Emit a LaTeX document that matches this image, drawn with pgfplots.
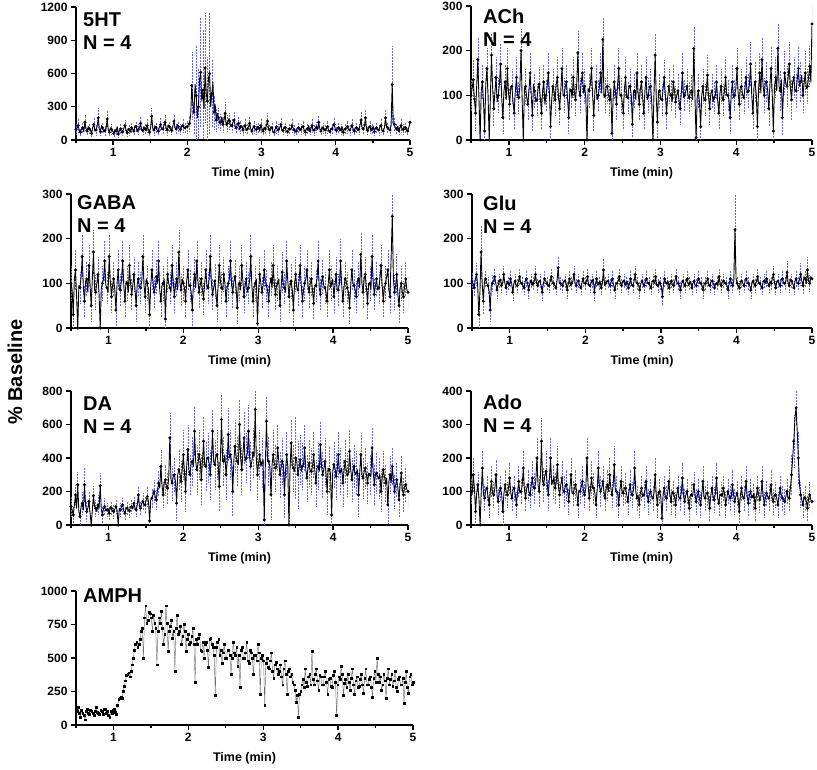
\documentclass[border=0pt]{standalone}
\usepackage{pgfplots}
\pgfplotsset{compat=1.18}
\usepackage{pgfplotstable}
\usepackage{fontspec}
\setmainfont{Liberation Sans}
\definecolor{errblue}{RGB}{100,100,255}

% Each table: y = mean % baseline, e = SEM; one row every 0.015 min from 0.5 min
\pgfplotstableread[row sep=\\]{
y e\\
95 45\\110 50\\130 60\\85 45\\70 40\\100 50\\110 50\\75 40\\160 70\\105 50\\
80 40\\120 55\\100 50\\90 45\\60 30\\115 50\\140 60\\80 40\\90 45\\125 55\\
200 90\\95 45\\75 40\\130 55\\110 50\\70 35\\85 45\\100 50\\190 80\\90 45\\
70 35\\110 50\\95 45\\80 40\\60 35\\95 45\\80 40\\120 50\\55 30\\85 40\\
100 45\\65 35\\75 40\\110 50\\130 50\\90 45\\65 35\\105 50\\90 45\\70 35\\
110 50\\95 45\\80 40\\130 55\\120 50\\75 40\\95 45\\110 50\\150 60\\90 45\\
85 40\\120 55\\100 50\\80 40\\130 55\\95 45\\70 35\\110 50\\215 80\\100 45\\
90 45\\125 55\\110 50\\85 40\\80 40\\120 55\\140 60\\95 45\\100 45\\130 55\\
160 70\\105 50\\90 45\\135 60\\120 50\\95 45\\85 40\\125 55\\170 60\\110 50\\
100 45\\140 60\\120 50\\90 45\\95 45\\130 55\\130 55\\105 50\\110 50\\125 55\\
120 55\\140 60\\150 70\\220 150\\490 300\\320 250\\250 200\\500 400\\400 450\\200 300\\
300 350\\550 450\\610 500\\350 400\\450 550\\280 400\\650 500\\420 450\\350 400\\560 500\\
600 550\\300 350\\420 300\\520 300\\250 150\\320 200\\180 100\\240 120\\200 90\\150 80\\
160 80\\210 90\\140 70\\180 80\\240 100\\130 60\\150 80\\190 80\\170 70\\120 60\\
130 60\\160 70\\180 70\\120 55\\110 50\\140 60\\150 60\\95 45\\120 55\\130 60\\
90 45\\115 50\\130 60\\85 40\\100 50\\120 55\\150 60\\100 50\\80 40\\110 50\\
120 55\\90 45\\95 45\\125 55\\110 50\\80 40\\130 55\\105 50\\80 40\\115 50\\
100 50\\130 55\\170 70\\95 45\\90 45\\120 55\\110 50\\75 40\\70 35\\100 45\\
120 55\\85 40\\95 45\\110 50\\140 60\\90 45\\85 40\\120 55\\110 50\\75 40\\
75 40\\105 50\\100 45\\90 45\\130 55\\110 50\\90 45\\70 35\\80 40\\115 50\\
110 50\\85 40\\95 45\\125 55\\120 55\\90 45\\70 35\\105 50\\100 50\\130 55\\
85 40\\100 45\\130 60\\80 40\\90 45\\110 50\\115 50\\95 45\\160 65\\100 45\\
80 40\\120 55\\105 50\\90 45\\90 45\\110 50\\120 55\\85 40\\75 40\\105 50\\
100 45\\130 55\\140 60\\95 45\\85 40\\110 50\\110 50\\80 40\\95 45\\120 55\\
70 35\\100 45\\100 50\\125 55\\120 55\\90 45\\90 45\\110 50\\130 60\\95 45\\
80 40\\115 50\\110 50\\85 40\\95 45\\130 55\\180 70\\110 50\\100 50\\120 55\\
200 70\\95 45\\85 40\\115 50\\120 55\\80 40\\100 45\\125 55\\75 40\\105 50\\
110 50\\90 45\\90 45\\120 55\\130 55\\85 40\\80 40\\110 50\\200 80\\120 55\\
110 50\\95 45\\90 45\\130 55\\500 350\\150 70\\140 60\\100 50\\100 50\\125 55\\
85 40\\110 50\\130 55\\90 45\\95 45\\120 55\\110 50\\85 40\\80 40\\115 50\\
160 60\\
}\tHT

\pgfplotstableread[row sep=\\]{
y e\\
100 35\\115 40\\135 45\\90 40\\60 40\\120 45\\180 50\\95 40\\0 30\\110 40\\
130 40\\85 40\\20 40\\125 45\\160 45\\100 40\\0 35\\90 40\\190 50\\120 45\\
70 40\\105 40\\140 45\\85 35\\100 40\\125 45\\170 45\\95 40\\50 35\\110 40\\
130 40\\90 35\\160 45\\105 40\\80 35\\120 40\\120 40\\85 35\\60 35\\110 40\\
140 45\\100 40\\95 35\\120 40\\200 50\\90 35\\0 40\\115 40\\120 40\\95 35\\
80 35\\110 40\\150 45\\100 40\\55 35\\125 40\\110 40\\85 35\\90 35\\115 40\\
125 40\\95 35\\60 35\\110 40\\130 40\\80 35\\100 35\\120 40\\150 45\\105 40\\
30 30\\90 35\\120 40\\110 40\\90 35\\125 40\\140 45\\95 35\\70 35\\110 40\\
160 45\\100 40\\100 40\\120 40\\130 40\\90 35\\50 35\\115 40\\110 40\\95 35\\
140 45\\105 40\\90 35\\125 40\\195 50\\110 40\\100 40\\130 45\\150 45\\105 40\\
120 40\\95 35\\0 35\\115 40\\110 40\\125 45\\160 45\\100 40\\55 35\\110 40\\
130 40\\90 35\\100 35\\120 40\\150 45\\105 40\\225 50\\95 35\\100 40\\120 40\\
120 40\\100 40\\90 35\\115 40\\15 30\\90 35\\130 40\\110 40\\80 35\\125 45\\
160 45\\100 40\\100 40\\85 35\\60 35\\115 40\\140 45\\95 35\\95 35\\120 40\\
120 40\\100 35\\35 30\\110 40\\110 40\\90 35\\150 45\\105 40\\80 35\\115 40\\
130 40\\95 35\\60 35\\110 40\\140 45\\90 35\\100 40\\120 40\\120 40\\85 35\\
0 35\\105 40\\190 50\\95 35\\40 35\\110 40\\110 40\\90 35\\90 35\\115 40\\
140 40\\100 35\\60 35\\95 35\\120 40\\105 35\\100 35\\85 35\\130 40\\110 40\\
85 35\\100 35\\110 40\\90 35\\70 35\\105 35\\150 45\\95 35\\100 35\\110 35\\
120 40\\100 35\\95 35\\105 35\\110 35\\90 35\\205 50\\100 35\\5 35\\95 35\\
110 40\\85 35\\30 35\\100 35\\120 40\\90 35\\90 35\\110 40\\145 45\\95 35\\
70 35\\105 40\\110 40\\85 35\\95 35\\100 35\\130 40\\90 35\\60 35\\105 40\\
120 40\\95 35\\90 35\\110 40\\140 45\\100 35\\100 35\\90 35\\50 35\\105 40\\
130 40\\95 35\\100 35\\115 40\\160 45\\105 40\\80 35\\120 40\\120 40\\100 35\\
95 35\\115 40\\140 45\\105 40\\110 40\\125 45\\170 50\\100 40\\60 35\\120 45\\
130 45\\100 40\\30 40\\115 45\\150 45\\105 40\\180 50\\120 45\\100 40\\130 45\\
130 45\\110 40\\70 40\\125 45\\160 50\\105 45\\20 40\\120 45\\140 45\\110 45\\
205 55\\120 45\\110 45\\135 50\\50 40\\115 45\\150 50\\125 45\\120 45\\140 50\\
170 50\\115 45\\90 45\\130 50\\140 45\\110 45\\110 40\\135 50\\160 50\\120 45\\
130 45\\145 50\\100 40\\125 45\\150 50\\115 45\\120 40\\140 50\\165 45\\130 50\\
260 50\\
}\tACh

\pgfplotstableread[row sep=\\]{
y e\\
100 40\\85 35\\30 35\\110 40\\130 45\\70 35\\0 40\\95 40\\90 35\\115 40\\
160 50\\90 35\\60 35\\105 40\\110 40\\80 35\\140 45\\95 40\\50 35\\110 40\\
170 50\\85 35\\80 40\\100 40\\120 40\\75 35\\0 35\\90 40\\100 40\\110 40\\
150 45\\95 40\\90 35\\80 35\\160 50\\105 40\\70 35\\95 35\\110 40\\85 35\\
40 35\\100 40\\130 45\\90 35\\85 35\\110 40\\150 45\\95 40\\60 35\\105 40\\
100 40\\80 35\\140 45\\100 40\\75 35\\95 35\\120 40\\85 35\\50 35\\100 40\\
110 40\\90 35\\90 35\\105 40\\160 50\\95 40\\70 35\\110 40\\100 40\\85 35\\
30 35\\95 35\\130 45\\105 40\\80 35\\90 35\\115 40\\100 40\\150 45\\85 35\\
60 35\\95 35\\100 40\\110 40\\20 35\\90 35\\120 40\\100 40\\90 35\\80 35\\
140 45\\105 40\\70 35\\95 35\\110 40\\85 35\\170 50\\100 40\\85 35\\110 40\\
100 40\\90 35\\60 35\\105 40\\130 45\\95 35\\95 35\\80 35\\40 35\\100 40\\
120 40\\90 35\\150 45\\105 40\\80 35\\95 35\\110 40\\85 35\\65 35\\100 40\\
130 45\\95 35\\90 35\\110 40\\160 50\\100 40\\75 35\\90 35\\105 40\\80 35\\
50 35\\95 35\\140 45\\105 40\\90 35\\85 35\\120 40\\100 40\\60 35\\90 35\\
100 40\\110 40\\150 45\\95 35\\80 35\\105 40\\115 40\\90 35\\45 35\\100 40\\
100 40\\85 35\\140 45\\105 40\\70 35\\95 35\\110 40\\80 35\\90 35\\105 40\\
160 50\\95 35\\60 35\\90 35\\100 40\\110 40\\10 40\\85 35\\120 40\\100 40\\
80 35\\95 35\\130 45\\105 40\\95 35\\85 35\\60 35\\100 40\\110 40\\90 35\\
140 45\\100 40\\75 35\\95 35\\100 40\\110 40\\50 35\\90 35\\125 45\\100 40\\
90 35\\80 35\\150 45\\105 40\\70 35\\95 35\\105 40\\85 35\\40 35\\100 40\\
120 40\\90 35\\85 35\\105 40\\140 45\\95 35\\60 35\\85 35\\100 40\\110 40\\
130 45\\95 35\\80 35\\100 40\\110 40\\85 35\\55 35\\95 35\\95 35\\110 40\\
150 45\\90 35\\75 35\\105 40\\115 40\\95 35\\90 35\\80 35\\60 35\\100 40\\
130 45\\90 35\\100 40\\110 40\\70 35\\95 35\\120 40\\85 35\\85 35\\100 40\\
150 50\\95 35\\60 35\\90 35\\110 40\\105 40\\90 35\\80 35\\45 35\\95 35\\
130 45\\100 40\\95 35\\85 35\\70 35\\105 40\\110 40\\90 35\\165 50\\100 40\\
80 35\\110 40\\120 40\\90 35\\55 35\\100 40\\100 40\\85 35\\160 50\\105 40\\
75 35\\95 35\\110 40\\85 35\\90 35\\110 40\\140 45\\95 35\\60 35\\90 35\\
100 40\\115 40\\130 45\\85 35\\70 35\\160 50\\250 50\\110 45\\80 40\\95 40\\
120 45\\75 40\\50 40\\90 40\\100 40\\80 35\\70 35\\95 40\\110 40\\85 35\\
80 35\\
}\tGABA

\pgfplotstableread[row sep=\\]{
y e\\
105 20\\100 20\\90 20\\110 20\\120 25\\95 25\\30 30\\80 30\\170 60\\100 30\\
60 30\\105 25\\110 20\\100 20\\95 20\\85 20\\40 25\\95 20\\100 20\\105 20\\
115 20\\100 15\\85 20\\95 15\\105 15\\110 15\\95 15\\100 15\\120 20\\100 15\\
90 15\\105 15\\100 15\\95 15\\110 20\\100 15\\80 20\\100 15\\105 15\\95 15\\
95 15\\105 15\\115 20\\100 15\\100 15\\95 15\\90 15\\105 15\\110 20\\100 15\\
85 20\\100 15\\105 15\\95 15\\100 15\\105 15\\120 20\\100 15\\95 15\\105 15\\
105 15\\95 15\\80 20\\100 15\\110 20\\105 15\\100 15\\95 15\\95 15\\105 15\\
115 20\\100 15\\100 15\\95 15\\90 15\\105 15\\135 25\\100 15\\100 15\\95 15\\
95 15\\105 15\\105 15\\100 15\\85 20\\100 15\\110 20\\95 15\\100 15\\105 15\\
120 20\\100 15\\95 15\\105 15\\105 15\\95 15\\90 15\\100 15\\110 20\\100 15\\
100 15\\105 15\\115 20\\95 15\\95 15\\100 15\\105 15\\110 15\\80 20\\100 15\\
110 20\\95 15\\100 15\\105 15\\90 15\\100 15\\130 25\\95 15\\100 15\\105 15\\
105 15\\100 15\\95 15\\105 15\\110 20\\95 15\\85 20\\100 15\\100 15\\105 15\\
115 20\\100 15\\95 15\\105 15\\105 15\\95 15\\100 15\\105 15\\90 15\\100 15\\
110 20\\95 15\\95 15\\105 15\\120 20\\100 15\\100 15\\95 15\\85 20\\100 15\\
105 15\\100 15\\95 15\\105 15\\110 20\\100 15\\100 15\\95 15\\90 15\\105 15\\
105 15\\100 15\\115 20\\95 15\\95 15\\105 15\\100 15\\95 15\\70 20\\100 15\\
110 20\\100 15\\100 15\\105 15\\90 15\\100 15\\105 15\\95 15\\95 15\\105 15\\
115 20\\100 15\\100 15\\95 15\\85 20\\100 15\\105 15\\100 15\\95 15\\105 15\\
110 20\\95 15\\100 15\\105 15\\90 15\\100 15\\105 15\\95 15\\95 15\\105 15\\
110 20\\100 15\\100 15\\95 15\\85 20\\100 15\\100 15\\105 15\\110 20\\95 15\\
95 15\\105 15\\105 15\\100 15\\90 15\\100 15\\100 15\\95 15\\115 20\\100 15\\
95 15\\105 15\\105 15\\100 15\\100 15\\95 15\\85 20\\100 15\\110 20\\100 15\\
95 15\\105 20\\220 80\\110 25\\100 15\\95 15\\90 15\\105 15\\105 15\\100 15\\
95 15\\105 15\\110 20\\100 15\\100 15\\95 15\\85 20\\100 15\\105 15\\100 15\\
95 15\\105 15\\115 20\\100 15\\100 15\\95 15\\90 15\\105 15\\105 15\\100 15\\
110 20\\100 15\\95 15\\105 15\\100 15\\110 20\\120 20\\100 15\\90 15\\105 15\\
105 15\\100 15\\95 15\\110 20\\110 20\\100 15\\100 15\\105 20\\125 25\\100 20\\
95 15\\110 20\\105 15\\100 20\\90 15\\105 20\\110 20\\100 20\\100 15\\110 20\\
120 25\\105 20\\95 20\\115 25\\110 20\\100 20\\130 30\\105 25\\100 20\\115 25\\
110 20\\
}\tGlu

\pgfplotstableread[row sep=\\]{
y e\\
110 60\\90 50\\60 50\\120 60\\180 60\\100 50\\240 80\\80 50\\50 50\\110 60\\
130 70\\90 60\\240 100\\120 70\\80 60\\100 50\\140 60\\70 50\\0 50\\90 50\\
175 60\\110 50\\100 50\\80 50\\120 60\\100 50\\235 80\\90 50\\60 50\\100 50\\
110 50\\85 40\\90 40\\100 40\\70 40\\110 40\\100 40\\80 40\\80 40\\95 40\\
110 40\\90 40\\0 40\\100 40\\90 40\\110 40\\120 40\\85 40\\70 40\\100 40\\
100 40\\90 40\\85 40\\110 40\\110 40\\95 40\\130 40\\100 40\\90 40\\120 40\\
180 50\\110 40\\100 40\\130 50\\140 50\\120 50\\120 50\\150 50\\170 60\\140 60\\
25 50\\150 60\\160 60\\180 60\\200 70\\170 60\\150 60\\210 70\\250 80\\220 80\\
350 100\\240 90\\180 80\\250 90\\270 90\\230 90\\220 90\\280 100\\520 150\\270 100\\
250 100\\290 100\\300 100\\260 100\\130 100\\300 110\\330 120\\310 120\\260 120\\330 120\\
420 150\\320 130\\200 120\\350 140\\450 150\\330 140\\300 120\\370 140\\380 150\\350 150\\
560 150\\380 150\\330 150\\360 150\\420 150\\390 150\\270 150\\380 150\\500 150\\360 150\\
350 150\\400 150\\400 150\\370 150\\300 150\\390 150\\560 130\\380 150\\360 150\\410 150\\
420 150\\370 150\\230 150\\400 150\\630 150\\380 150\\380 150\\420 150\\300 150\\370 150\\
540 160\\400 150\\420 150\\380 150\\200 150\\390 150\\470 160\\410 150\\380 150\\360 150\\
600 150\\400 150\\330 150\\420 150\\520 160\\380 150\\400 150\\430 150\\560 160\\400 150\\
350 150\\380 150\\430 150\\410 150\\690 150\\390 150\\300 150\\370 150\\420 150\\350 150\\
370 150\\390 150\\30 150\\360 150\\620 150\\380 150\\380 150\\350 150\\180 150\\360 150\\
420 150\\370 150\\340 140\\350 140\\460 140\\380 140\\300 140\\340 140\\380 140\\360 140\\
180 140\\330 140\\420 140\\350 140\\0 140\\340 140\\490 140\\360 140\\340 140\\320 140\\
400 250\\380 200\\300 200\\340 160\\390 150\\320 140\\350 140\\360 140\\460 140\\330 140\\
280 140\\340 140\\370 140\\320 140\\320 140\\350 140\\420 140\\330 140\\250 140\\340 140\\
350 140\\320 140\\480 140\\350 140\\300 140\\330 140\\380 140\\310 140\\200 140\\340 140\\
330 140\\310 140\\60 150\\320 140\\360 140\\340 140\\290 140\\330 140\\420 140\\310 140\\
320 140\\340 140\\250 140\\320 140\\380 130\\330 130\\300 130\\310 130\\440 130\\330 130\\
270 130\\320 130\\350 130\\300 130\\310 130\\330 130\\180 130\\310 130\\420 130\\300 130\\
280 120\\320 120\\340 120\\300 120\\250 120\\310 120\\300 120\\290 120\\460 120\\320 120\\
240 120\\300 120\\310 120\\290 120\\280 120\\300 120\\200 120\\280 120\\330 110\\290 110\\
250 110\\280 110\\120 110\\260 110\\300 110\\250 110\\350 110\\270 110\\200 100\\240 100\\
270 100\\220 100\\150 100\\240 100\\310 100\\210 100\\180 100\\230 100\\240 100\\210 100\\
200 100\\
}\tDA

\pgfplotstableread[row sep=\\]{
y e\\
100 40\\90 40\\150 50\\110 40\\40 40\\95 40\\120 40\\80 40\\0 40\\100 40\\
170 50\\90 40\\80 40\\105 40\\110 40\\85 40\\60 40\\100 40\\130 45\\95 40\\
90 40\\110 40\\150 45\\85 40\\70 40\\100 40\\110 40\\90 40\\40 40\\95 40\\
120 45\\100 40\\90 40\\110 40\\140 45\\95 40\\80 40\\105 40\\110 40\\90 40\\
60 40\\100 40\\130 45\\95 40\\100 40\\115 45\\170 50\\105 40\\80 40\\110 45\\
120 45\\100 40\\90 40\\120 45\\140 50\\110 45\\110 45\\130 50\\200 60\\120 50\\
100 45\\140 55\\250 70\\130 50\\120 50\\150 55\\160 60\\125 50\\90 45\\140 50\\
200 60\\120 50\\130 50\\145 55\\110 45\\125 50\\180 55\\110 45\\90 40\\120 45\\
140 50\\105 45\\100 45\\115 45\\120 45\\100 40\\70 40\\110 45\\150 50\\95 40\\
95 40\\110 45\\120 45\\100 40\\60 40\\105 40\\100 40\\115 45\\130 45\\100 40\\
90 40\\110 45\\200 60\\120 50\\80 40\\105 45\\140 50\\110 45\\110 45\\95 40\\
60 40\\105 45\\170 50\\115 45\\100 45\\110 45\\130 45\\100 40\\80 40\\110 45\\
120 45\\100 40\\150 50\\110 45\\90 40\\115 45\\180 55\\105 45\\100 45\\95 40\\
60 40\\105 40\\130 45\\100 40\\95 40\\110 45\\110 45\\90 40\\70 40\\100 40\\
120 45\\95 40\\90 40\\105 40\\170 50\\100 40\\80 40\\90 40\\60 40\\95 40\\
110 40\\85 40\\90 40\\100 40\\130 45\\90 40\\70 40\\95 40\\100 40\\85 40\\
80 40\\95 40\\150 50\\90 40\\60 40\\100 40\\100 40\\85 40\\20 40\\90 40\\
110 40\\85 40\\80 40\\95 40\\130 45\\90 40\\70 40\\100 40\\95 40\\85 40\\
60 40\\90 40\\110 40\\80 40\\80 40\\95 40\\140 45\\85 40\\70 40\\90 40\\
100 40\\80 40\\50 40\\90 40\\90 40\\85 40\\120 40\\95 40\\70 40\\85 40\\
100 40\\80 40\\60 40\\90 40\\130 45\\85 40\\80 40\\95 40\\95 40\\80 40\\
50 40\\90 40\\110 40\\85 40\\75 40\\95 40\\140 45\\80 40\\65 40\\90 40\\
90 40\\85 40\\110 40\\95 40\\60 40\\80 40\\100 40\\90 40\\80 40\\85 40\\
120 45\\90 40\\70 40\\85 40\\95 40\\80 40\\40 40\\90 40\\110 40\\85 40\\
80 40\\95 40\\130 45\\85 40\\65 40\\90 40\\100 40\\80 40\\85 40\\95 40\\
50 40\\85 40\\110 40\\90 40\\75 40\\85 40\\130 45\\90 40\\60 40\\80 40\\
95 40\\85 40\\80 40\\90 40\\120 45\\80 40\\70 40\\90 40\\90 40\\80 40\\
60 40\\85 40\\110 40\\90 40\\80 40\\75 40\\70 40\\85 40\\100 40\\80 40\\
80 40\\110 50\\150 60\\200 70\\250 80\\320 70\\350 50\\280 80\\200 80\\120 50\\
90 40\\75 40\\60 40\\85 40\\80 40\\70 40\\50 40\\80 40\\90 40\\75 40\\
70 40\\
}\tAdo

\pgfplotstableread[row sep=\\]{
y\\
110\\100\\130\\90\\60\\110\\90\\70\\40\\100\\
120\\85\\80\\110\\100\\90\\70\\105\\130\\95\\
90\\80\\110\\100\\80\\115\\120\\90\\100\\75\\
60\\100\\90\\110\\120\\95\\80\\150\\190\\200\\
210\\200\\250\\290\\330\\370\\380\\390\\360\\400\\
450\\500\\560\\600\\620\\580\\600\\640\\700\\720\\
500\\800\\890\\760\\780\\840\\830\\800\\700\\820\\
760\\720\\450\\700\\800\\760\\850\\720\\600\\680\\
890\\760\\550\\700\\740\\780\\650\\700\\400\\720\\
820\\680\\700\\740\\600\\660\\750\\700\\550\\640\\
680\\600\\620\\660\\720\\600\\320\\640\\600\\650\\
680\\560\\550\\620\\500\\600\\620\\560\\430\\640\\
650\\600\\580\\520\\220\\580\\620\\640\\520\\560\\
460\\540\\600\\500\\500\\560\\560\\520\\380\\500\\
620\\540\\520\\580\\440\\520\\280\\560\\580\\500\\
500\\540\\620\\480\\460\\560\\540\\500\\380\\520\\
520\\480\\600\\540\\230\\500\\520\\480\\150\\460\\
500\\430\\420\\480\\540\\400\\350\\450\\470\\420\\
380\\400\\450\\360\\300\\420\\480\\380\\230\\400\\
420\\360\\380\\320\\300\\260\\170\\220\\60\\230\\
250\\300\\340\\280\\420\\320\\290\\360\\380\\300\\
550\\340\\300\\380\\420\\330\\260\\370\\360\\300\\
300\\360\\400\\320\\230\\340\\350\\290\\280\\370\\
400\\320\\70\\300\\360\\340\\440\\380\\220\\310\\
340\\280\\380\\320\\260\\350\\420\\300\\230\\330\\
360\\280\\290\\340\\380\\300\\240\\350\\420\\300\\
300\\340\\360\\280\\210\\350\\400\\320\\500\\380\\
320\\360\\260\\300\\380\\330\\200\\350\\420\\300\\
340\\380\\290\\330\\400\\280\\250\\340\\360\\300\\
300\\350\\160\\320\\400\\280\\240\\360\\380\\300\\
320\\
}\tAMPH

\pgfplotsset{
  panel/.style={
    scale only axis,
    anchor=south west,
    axis x line=bottom, axis y line=left,
    axis line style={-, line width=1.5pt, black},
    xmin=0.5, xmax=5,
    xtick={1,2,3,4,5},
    minor xtick={0.5,1.5,2.5,3.5,4.5},
    ymin=0,
    tick align=outside,
    major tick length=5pt, minor tick length=3pt,
    tick style={black, line width=1.3pt},
    tick label style={font=\bfseries\fontsize{12}{12}\selectfont},
    /pgf/number format/assume math mode=true,
    /pgf/number format/1000 sep={},
    xlabel={Time (min)},
    xlabel style={font=\bfseries\fontsize{12.5}{13}\selectfont, at={(axis description cs:0.5,0)}, anchor=center, yshift=-33pt},
    clip mode=individual,
  },
  errs/.style={only marks, mark=*, mark size=1.3pt, mark options={solid, fill=black, draw=black},
    forget plot, each nth point=2, filter discard warning=false,
    error bars/y dir=both, error bars/y explicit, error bars/error mark=none,
    error bars/error bar style={errblue, dash pattern=on 0.6pt off 0.9pt, line width=0.55pt}},
  series/.style={black, line width=0.9pt, mark=none, line join=round},
}
\newcommand{\plab}{\bfseries\fontsize{20}{23}\selectfont}
\newcommand{\panel}[1]{%
  \addplot[errs] table[x expr=\coordindex*0.015+0.5, y=y, y error=e] {#1};
  \addplot[series] table[x expr=\coordindex*0.015+0.5, y=y] {#1};}

\begin{document}
\begin{tikzpicture}
\path[use as bounding box] (0,0) rectangle (817pt,769pt);

% 5HT
\begin{axis}[panel, at={(76pt,629pt)}, width=334pt, height=133pt,
  ymax=1200, ytick={0,300,600,900,1200}]
\panel{\tHT}
\node[anchor=north west, inner sep=0pt, align=left, font=\plab, xshift=7pt, yshift=-6pt] at (rel axis cs:0,1) {5HT\\N = 4};
\end{axis}

% ACh
\begin{axis}[panel, at={(471pt,629pt)}, width=341pt, height=134pt,
  ymax=300, ytick={0,100,200,300}]
\panel{\tACh}
\node[anchor=north west, inner sep=0pt, align=left, font=\plab, xshift=12pt, yshift=-3pt] at (rel axis cs:0,1) {ACh\\N = 4};
\end{axis}

% GABA
\begin{axis}[panel, at={(71pt,441pt)}, width=337pt, height=134pt,
  ymax=300, ytick={0,100,200,300}]
\panel{\tGABA}
\node[anchor=north west, inner sep=0pt, align=left, font=\plab, xshift=6pt, yshift=-1pt] at (rel axis cs:0,1) {GABA\\N = 4};
\end{axis}

% Glu
\begin{axis}[panel, at={(472pt,441pt)}, width=340pt, height=134pt,
  ymax=300, ytick={0,100,200,300}]
\panel{\tGlu}
\node[anchor=north west, inner sep=0pt, align=left, font=\plab, xshift=11pt, yshift=-2pt] at (rel axis cs:0,1) {Glu\\N = 4};
\end{axis}

% DA
\begin{axis}[panel, at={(71pt,244pt)}, width=337pt, height=134pt,
  ymax=800, ytick={0,200,400,600,800}]
\panel{\tDA}
\node[anchor=north west, inner sep=0pt, align=left, font=\plab, xshift=12pt, yshift=-6pt] at (rel axis cs:0,1) {DA\\N = 4};
\end{axis}

% Ado
\begin{axis}[panel, at={(471pt,244pt)}, width=341pt, height=134pt,
  ymax=400, ytick={0,100,200,300,400}]
\panel{\tAdo}
\node[anchor=north west, inner sep=0pt, align=left, font=\plab, xshift=12pt, yshift=-4pt] at (rel axis cs:0,1) {Ado\\N = 4};
\end{axis}

% AMPH
\begin{axis}[panel, at={(76pt,44pt)}, width=337pt, height=134pt,
  ymax=1000, ytick={0,250,500,750,1000}]
\addplot[black!55, line width=0.45pt, mark=square*, mark size=0.9pt, mark options={solid, fill=black, draw=black}] table[x expr=\coordindex*0.015+0.5, y=y] {\tAMPH};
\node[anchor=north west, inner sep=0pt, align=left, font=\plab, xshift=7pt, yshift=2pt] at (rel axis cs:0,1) {AMPH};
\end{axis}

\node[rotate=90, font=\bfseries\fontsize{20}{20}\selectfont] at (15pt,397pt) {\% Baseline};
\end{tikzpicture}
\end{document}
